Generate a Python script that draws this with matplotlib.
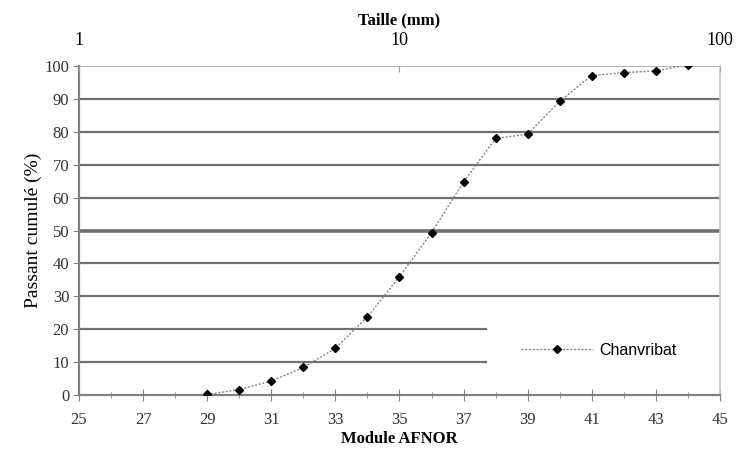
import numpy as np
import matplotlib.pyplot as plt

# Courbe granulométrique - Chanvribat
module = [29, 30, 31, 32, 33, 34, 35, 36, 37, 38, 39, 40, 41, 42, 43, 44]
passant = [0.2, 1.7, 4.3, 8.4, 14.2, 23.8, 36.0, 49.4, 64.8, 78.0, 79.3, 89.3, 97.1, 98.0, 98.5, 100.4]
y_ticks = [0, 10, 20, 30, 40, 50, 60, 70, 80, 90, 100]
x_ticks = [25, 27, 29, 31, 33, 35, 37, 39, 41, 43, 45]
taille_ticks = [1, 10, 100]

serif = 'Liberation Serif'
fig = plt.figure(figsize=(7.38, 4.49), dpi=100)
ax = fig.add_axes([0.107, 0.120, 0.8686, 0.733])

ax.set_xlim(25, 45)
ax.set_ylim(0, 100)

# horizontal grid (10 and 20 hidden behind the legend box)
for v in y_ticks[1:]:
    if v in (10, 20):
        ax.axhline(v, xmin=0, xmax=0.635, color='#707070', lw=1.6, zorder=1)
    elif v == 100:
        ax.axhline(v, color='#b0b0b0', lw=1.4, zorder=1)
    elif v == 50:
        ax.axhline(v, color='#707070', lw=2.6, zorder=1)
    else:
        ax.axhline(v, color='#707070', lw=1.6, zorder=1)

ax.plot(module, passant, color='#888888', ls=(0, (1.5, 1.2)), lw=1.0,
        marker='D', ms=4.2, mfc='black', mec='black', label='Chanvribat', zorder=3)

ax.spines['top'].set_visible(False)
ax.spines['left'].set_color('#808080')
ax.spines['left'].set_linewidth(1.6)
ax.spines['bottom'].set_color('#808080')
ax.spines['bottom'].set_linewidth(1.6)
ax.spines['right'].set_color('#c8c8c8')
ax.spines['right'].set_linewidth(1.2)

ax.set_xticks(x_ticks)
ax.set_xticks(np.arange(26, 45, 2), minor=True)
ax.set_yticks(y_ticks)
ax.tick_params(axis='x', which='major', direction='inout', length=8, color='#808080', labelsize=12, pad=8)
ax.tick_params(axis='x', which='minor', direction='inout', length=5, color='#808080')
ax.tick_params(axis='y', direction='out', length=4, color='#808080', labelsize=12, pad=3)
for lab in ax.get_xticklabels() + ax.get_yticklabels():
    lab.set_fontfamily(serif)
    lab.set_color('#333333')

ax.set_xlabel('Module AFNOR', fontfamily=serif, fontweight='bold', fontsize=12, labelpad=2)
ax.set_ylabel('Passant cumulé (%)', fontfamily=serif, fontsize=14, labelpad=2)

# top log axis (taille en mm)
ax2 = ax.twiny()
ax2.set_xscale('log')
ax2.set_xlim(1, 100)
ax2.set_xticks(taille_ticks)
ax2.set_xticklabels([str(t) for t in taille_ticks])
ax2.xaxis.set_minor_locator(plt.NullLocator())
ax2.tick_params(axis='x', direction='in', length=4, color='#a0a0a0', labelsize=13, pad=12)
for lab in ax2.get_xticklabels():
    lab.set_fontfamily(serif)
for s in ax2.spines.values():
    s.set_visible(False)
ax2.set_xlabel('Taille (mm)', fontfamily=serif, fontweight='bold', fontsize=12, labelpad=6)

leg = ax.legend(loc='center right', bbox_to_anchor=(0.945, 0.137), frameon=False,
                prop={'family': 'Liberation Sans', 'size': 11.5}, handlelength=4.5,
                handletextpad=0.4, borderpad=0)

fig.savefig('out.png', dpi=100)
